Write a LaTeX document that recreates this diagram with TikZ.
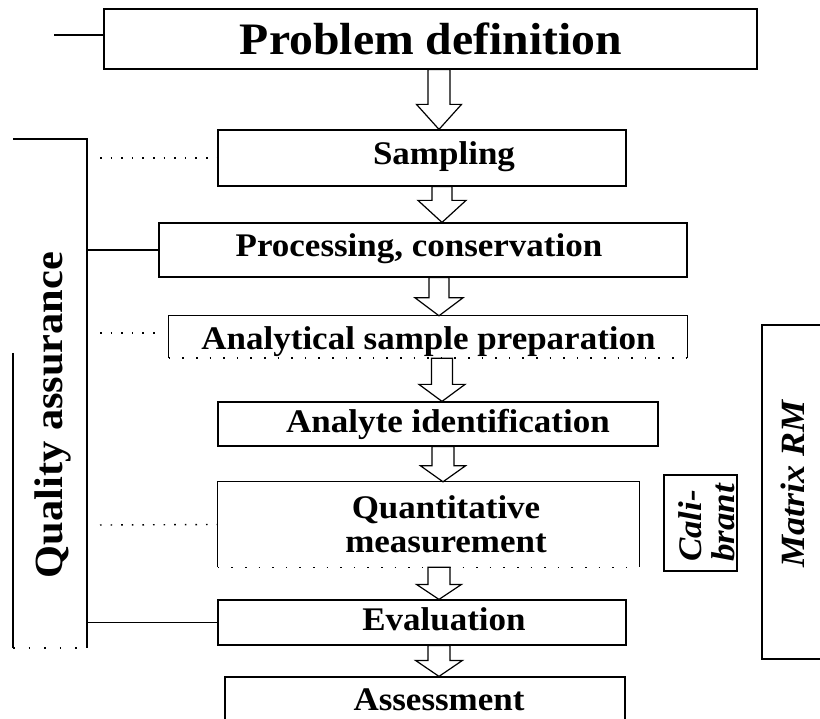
\documentclass[tikz,border=0pt]{standalone}
\usepackage{fontspec}
\setmainfont{Liberation Serif}
\newfontfamily\lbl[FakeStretch=1.06]{Liberation Serif}
\usetikzlibrary{calc}
\tikzset{
  box/.style={draw, line width=1.2pt, inner sep=0pt, rectangle},
  openbox/.style={inner sep=0pt, rectangle},
  lab/.style={font=\lbl\bfseries\fontsize{33}{34}\selectfont, inner sep=0pt, anchor=base},
  big/.style={font=\lbl\bfseries\fontsize{45}{46}\selectfont, inner sep=0pt, anchor=base},
  qa/.style={font=\lbl\bfseries\fontsize{40}{40}\selectfont, inner sep=0pt},
  itl/.style={font=\lbl\bfseries\itshape\fontsize{33}{33}\selectfont, inner sep=0pt},
  hol/.style={draw, line width=1.2pt, fill=white, line join=miter},
  ln/.style={line width=1.2pt},
  dots/.style={line width=1.4pt, dash pattern=on 1.6pt off 9pt},
}
% hollow down arrow between two named nodes
% #1 from, #2 to, #3 centre x, #4 half shaft, #5 half head, #6 head length
\newcommand\harrow[6]{%
  \draw[hol] let \p1=(#1.south), \p2=(#2.north) in
    (#3pt-#4pt,\y1) -- (#3pt-#4pt,\y2+#6pt) -- (#3pt-#5pt,\y2+#6pt) -- (#3pt,\y2)
    -- (#3pt+#5pt,\y2+#6pt) -- (#3pt+#4pt,\y2+#6pt) -- (#3pt+#4pt,\y1) -- cycle;}
\begin{document}
\begin{tikzpicture}[x=1pt,y=-1pt]
\useasboundingbox (0,0) rectangle (820,719);
\clip (0,0) rectangle (820,719);
\fill[white] (0,0) rectangle (820,719);

% boxes
\node[box, minimum width=653pt, minimum height=60pt] (prob) at (430.5,39) {};
\node[box, minimum width=408pt, minimum height=56pt] (samp) at (422,158) {};
\node[box, minimum width=528pt, minimum height=54pt] (proc) at (423,250) {};
\node[openbox, minimum width=518pt, minimum height=42pt] (anal) at (428,337) {};
\node[box, minimum width=440pt, minimum height=44pt] (ide) at (438,424) {};
\node[openbox, minimum width=421pt, minimum height=85pt] (quant) at (428.5,524.5) {};
\node[box, minimum width=408pt, minimum height=45pt] (eval) at (422,622.5) {};
\node[box, minimum width=400pt, minimum height=63pt] (asse) at (425,708.5) {};

\draw[ln] (anal.south west) -- (anal.north west) -- (anal.north east) -- (anal.south east);
\draw[dots, dash pattern=on 1.6pt off 12pt] (anal.south west) -- (anal.south east);
\draw[ln] (quant.south west) -- (quant.north west) -- (quant.north east) -- (quant.south east);
\draw[dots, dash pattern=on 1.6pt off 12pt] (quant.south west) -- (quant.south east);

% texts
\node[big] (probt) at (431,55) {Problem definition};
\node[lab] (sampt) at (444,165) {Sampling};
\node[lab] (proct) at (419,257) {Processing, conservation};
\node[lab] (analt) at (428.5,350) {Analytical sample preparation};
\node[lab] (idet) at (448,432) {Analyte identification};
\node[lab, anchor=center, align=center, font=\lbl\bfseries\fontsize{33}{34}\selectfont] (quantt) at (446,524) {Quantitative\\measurement};
\node[lab] (evalt) at (444,630) {Evaluation};
\node[lab] (asset) at (439,710) {Assessment};

% hollow arrows
\harrow{prob}{samp}{439}{11}{22.5}{25}
\harrow{samp}{proc}{442}{10}{24}{22}
\harrow{proc}{anal}{439}{10}{24}{18}
\harrow{anal}{ide}{442}{10.5}{23}{17}
\harrow{ide}{quant}{443}{11}{22.5}{16}
\harrow{quant}{eval}{439}{11}{22.5}{15}
\harrow{eval}{asse}{439}{11}{23.5}{16}

% problem definition side line
\coordinate (pl) at (54,35);
\draw[ln] (pl) -- (pl -| prob.west);

% quality assurance bracket
\coordinate (qtl) at (13,139);
\coordinate (qtr) at (87,139);
\coordinate (qml) at (13,353);
\coordinate (qbl) at (13,648);
\coordinate (qbr) at (87,648);
\draw[ln] (qtl) -- (qtr) -- (qbr);
\draw[ln] (qml) -- (qbl);
\draw[dots, dash pattern=on 1.6pt off 14pt] (qbl) -- (qbr);
\node[qa, rotate=90] (qat) at (53,415) {Quality assurance};

\draw[ln] (qtr |- proc.west) -- (proc.west);
\draw[ln] (qtr |- eval.west) -- (eval.west);

\coordinate (d1) at (100,158);
\draw[dots] (d1) -- (samp.west);
\coordinate (d2a) at (100,333);
\coordinate (d2b) at (155,333);
\draw[dots] (d2a) -- (d2b);
\coordinate (d3) at (100,525);
\draw[dots] (d3) -- (quant.west);

% calibrant
\node[box, minimum width=73pt, minimum height=96pt] (cal) at (700.5,523) {};
\node[itl, rotate=90, align=left] (calt) at (707,523) {Cali-\\brant};

% matrix RM (open on the right)
\coordinate (mtr) at (825,325);
\coordinate (mtl) at (762,325);
\coordinate (mbl) at (762,659);
\coordinate (mbr) at (825,659);
\draw[ln] (mtr) -- (mtl) -- (mbl) -- (mbr);
\node[itl, rotate=90, font=\lbl\bfseries\itshape\fontsize{34}{34}\selectfont] (mrmt) at (793,484) {Matrix RM};
\end{tikzpicture}
\end{document}
